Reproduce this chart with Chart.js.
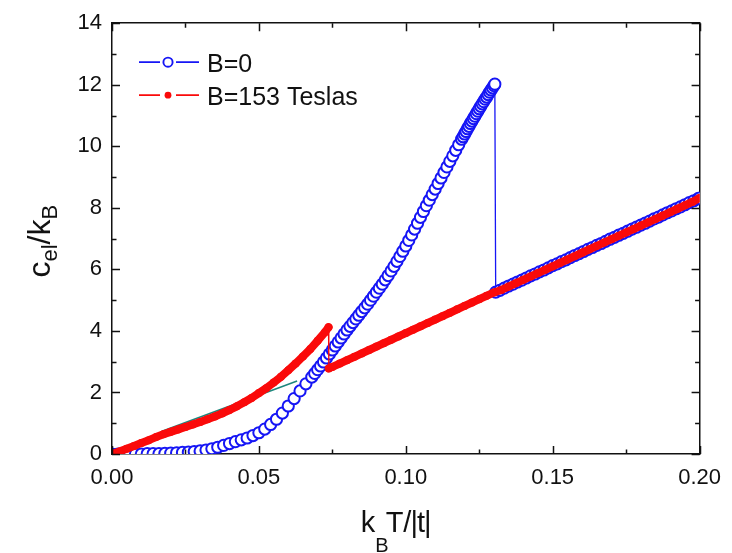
<!DOCTYPE html>
<html>
<head>
<meta charset="utf-8">
<script src="https://cdn.jsdelivr.net/npm/chart.js@4.4.1/dist/chart.umd.min.js"></script>
<style>
  html, body { margin: 0; padding: 0; background: #ffffff; }
  canvas { display: block; }
</style>
</head>
<body>
<canvas id="chart" width="732" height="553"></canvas>
<script>
// ---- axis ticks ----
const xMajor = [0, 0.05, 0.10, 0.15, 0.20];
const xMinor = [0.025, 0.075, 0.125, 0.175];
const yMajor = [0, 2, 4, 6, 8, 10, 12, 14];
const yMinor = [1, 3, 5, 7, 9, 11, 13];

const seriesNames = ['B=0', 'B=153 Teslas'];

// ---- B = 0 : electronic specific heat vs k_B T/|t| ----
const tZero = [
  0, 0.002, 0.004, 0.006, 0.008, 0.01, 0.012, 0.014, 0.016, 0.018,
  0.02, 0.022, 0.024, 0.026, 0.028, 0.03, 0.032, 0.034, 0.036, 0.038,
  0.04, 0.042, 0.044, 0.046, 0.048, 0.05, 0.052, 0.054, 0.056, 0.058,
  0.06, 0.062, 0.064, 0.066, 0.068, 0.069, 0.07, 0.071, 0.072, 0.073,
  0.074, 0.075, 0.076, 0.077, 0.078, 0.079, 0.08, 0.081, 0.082, 0.083,
  0.084, 0.085, 0.086, 0.087, 0.088, 0.089, 0.09, 0.091, 0.092, 0.093,
  0.094, 0.095, 0.096, 0.097, 0.098, 0.099, 0.1, 0.101, 0.102, 0.103,
  0.104, 0.105, 0.106, 0.107, 0.108, 0.109, 0.11, 0.111, 0.112, 0.113,
  0.114, 0.115, 0.116, 0.117, 0.118, 0.119, 0.1195, 0.12, 0.1205, 0.121,
  0.1215, 0.122, 0.1225, 0.123, 0.1235, 0.124, 0.1245, 0.125, 0.1255, 0.126,
  0.1265, 0.127, 0.1275, 0.128, 0.1285, 0.129, 0.1295, 0.13, 0.1303,
  0.1306, 0.132, 0.1335, 0.135, 0.1365, 0.138, 0.1395, 0.141, 0.1425, 0.144,
  0.1455, 0.147, 0.1485, 0.15, 0.1515, 0.153, 0.1545, 0.156, 0.1575, 0.159,
  0.1605, 0.162, 0.1635, 0.165, 0.1665, 0.168, 0.1695, 0.171, 0.1725, 0.174,
  0.1755, 0.177, 0.1785, 0.18, 0.1815, 0.183, 0.1845, 0.186, 0.1875, 0.189,
  0.1905, 0.192, 0.1935, 0.195, 0.1965, 0.198, 0.1995, 0.2
];
const cZero = [
  0.0, 0.0, 0.0, 0.0, 0.0, 0.0, 0.01, 0.01, 0.01, 0.02,
  0.03, 0.04, 0.05, 0.06, 0.08, 0.1, 0.13, 0.17, 0.22, 0.28,
  0.34, 0.4, 0.46, 0.52, 0.6, 0.69, 0.81, 0.96, 1.13, 1.33,
  1.56, 1.8, 2.05, 2.28, 2.5, 2.62, 2.74, 2.86, 2.99, 3.12,
  3.25, 3.38, 3.51, 3.64, 3.77, 3.9, 4.03, 4.15, 4.27, 4.39,
  4.51, 4.63, 4.75, 4.87, 5.0, 5.13, 5.26, 5.39, 5.52, 5.66,
  5.8, 5.95, 6.1, 6.26, 6.42, 6.59, 6.76, 6.94, 7.12, 7.31,
  7.5, 7.69, 7.88, 8.07, 8.25, 8.43, 8.61, 8.79, 8.97, 9.15,
  9.33, 9.51, 9.69, 9.87, 10.05, 10.23, 10.31, 10.4, 10.48, 10.57,
  10.65, 10.74, 10.82, 10.9, 10.98, 11.06, 11.14, 11.22, 11.3, 11.38,
  11.45, 11.53, 11.6, 11.68, 11.76, 11.83, 11.9, 11.97, 12.02,
  5.26, 5.32, 5.39, 5.46, 5.52, 5.59, 5.65, 5.72, 5.79, 5.85,
  5.92, 5.98, 6.05, 6.12, 6.18, 6.25, 6.31, 6.38, 6.45, 6.51,
  6.58, 6.65, 6.71, 6.78, 6.84, 6.91, 6.98, 7.04, 7.11, 7.17,
  7.24, 7.31, 7.37, 7.44, 7.5, 7.57, 7.64, 7.7, 7.77, 7.84,
  7.9, 7.97, 8.03, 8.1, 8.17, 8.23, 8.3, 8.32
];

// ---- B = 153 T : branch below the jump ----
const tFieldLow = [
  0, 0.0025, 0.005, 0.0075, 0.01, 0.0125, 0.015, 0.0175, 0.02, 0.0225,
  0.025, 0.0275, 0.03, 0.0325, 0.035, 0.0375, 0.04, 0.0425, 0.045, 0.0475,
  0.05, 0.0525, 0.055, 0.0575, 0.06, 0.0625, 0.065, 0.0675, 0.07, 0.0725,
  0.0737
];
const cFieldLow = [
  0.0, 0.08, 0.17, 0.26, 0.36, 0.45, 0.55, 0.64, 0.72, 0.8,
  0.88, 0.96, 1.04, 1.13, 1.22, 1.32, 1.43, 1.55, 1.68, 1.82,
  1.98, 2.14, 2.32, 2.51, 2.72, 2.94, 3.17, 3.41, 3.68, 3.96,
  4.12
];
// ---- B = 153 T : branch above the jump ----
const tFieldHigh = [
  0.0738, 0.075, 0.0775, 0.08, 0.0825, 0.085, 0.0875, 0.09, 0.0925,
  0.095, 0.0975, 0.1, 0.1025, 0.105, 0.1075, 0.11, 0.1125, 0.115, 0.1175,
  0.12, 0.1225, 0.125, 0.1275, 0.13, 0.1325, 0.135, 0.1375, 0.14, 0.1425,
  0.145, 0.1475, 0.15, 0.1525, 0.155, 0.1575, 0.16, 0.1625, 0.165, 0.1675,
  0.17, 0.1725, 0.175, 0.1775, 0.18, 0.1825, 0.185, 0.1875, 0.19, 0.1925,
  0.195, 0.1975, 0.2
];
const cFieldHigh = [
  2.78, 2.83, 2.94, 3.05, 3.16, 3.27, 3.38, 3.49, 3.6,
  3.71, 3.82, 3.93, 4.04, 4.15, 4.26, 4.37, 4.48, 4.59, 4.7,
  4.81, 4.92, 5.03, 5.14, 5.25, 5.33, 5.44, 5.55, 5.66, 5.77,
  5.88, 5.99, 6.1, 6.21, 6.32, 6.43, 6.54, 6.65, 6.76, 6.87,
  6.98, 7.09, 7.2, 7.31, 7.42, 7.53, 7.64, 7.75, 7.86, 7.97,
  8.08, 8.19, 8.32
];

// ---- thin guide line between the two curves ----
const tGuide = [0.017, 0.063];
const cGuide = [0.74, 2.37];

const BLUE = 'rgb(22,22,245)';
const RED = 'rgb(250,10,10)';
const TEAL = 'rgb(30,135,125)';
const FONT = '"Liberation Sans", Arial, Helvetica, sans-serif';

const pts = (xs, ys) => xs.map((x, i) => ({ x, y: ys[i] }));

// draws inward major/minor tick marks on all four sides of the frame
const frameTicks = {
  id: 'frameTicks',
  afterDraw(chart) {
    const { ctx, chartArea: a, scales } = chart;
    const xs = scales.x, ys = scales.y;
    ctx.save();
    ctx.strokeStyle = '#111';
    ctx.lineWidth = 1.5;
    const MAJ = 8, MIN = 4.5;
    const vx = (v, len) => {
      const px = Math.round(xs.getPixelForValue(v)) + 0.5;
      ctx.beginPath();
      ctx.moveTo(px, a.bottom); ctx.lineTo(px, a.bottom - len);
      ctx.moveTo(px, a.top); ctx.lineTo(px, a.top + len);
      ctx.stroke();
    };
    const vy = (v, len) => {
      const py = Math.round(ys.getPixelForValue(v)) + 0.5;
      ctx.beginPath();
      ctx.moveTo(a.left, py); ctx.lineTo(a.left + len, py);
      ctx.moveTo(a.right, py); ctx.lineTo(a.right - len, py);
      ctx.stroke();
    };
    xMajor.forEach(v => vx(v, MAJ));
    xMinor.forEach(v => vx(v, MIN));
    yMajor.forEach(v => vy(v, MAJ));
    yMinor.forEach(v => vy(v, MIN));
    ctx.restore();
  }
};

// legend key: line - marker - line, then the series name
const keyBox = {
  id: 'keyBox',
  afterDraw(chart) {
    const { ctx, chartArea: a } = chart;
    const ds = chart.data.datasets.filter(d => seriesNames.includes(d.label));
    ds.sort((p, q) => seriesNames.indexOf(p.label) - seriesNames.indexOf(q.label));
    ctx.save();
    ds.forEach((d, i) => {
      const y = a.top + 39 + i * 33;
      const x0 = a.left + 27;
      const xm = x0 + 29;
      ctx.strokeStyle = d.keyColor;
      ctx.lineWidth = 1.8;
      ctx.beginPath();
      ctx.moveTo(x0, y); ctx.lineTo(xm - 8, y);
      ctx.moveTo(xm + 8, y); ctx.lineTo(x0 + 60, y);
      ctx.stroke();
      ctx.beginPath();
      if (d.keyMarker === 'open') {
        ctx.arc(xm, y, 4.6, 0, Math.PI * 2);
        ctx.fillStyle = '#fff';
        ctx.fill();
        ctx.lineWidth = 1.9;
        ctx.strokeStyle = d.keyColor;
        ctx.stroke();
      } else {
        ctx.arc(xm, y, 3.4, 0, Math.PI * 2);
        ctx.fillStyle = d.keyColor;
        ctx.fill();
      }
      ctx.fillStyle = '#111';
      ctx.font = '25px ' + FONT;
      ctx.textBaseline = 'alphabetic';
      ctx.textAlign = 'left';
      ctx.fillText(d.label, x0 + 68, y + 9.5);
    });
    ctx.restore();
  }
};

// axis titles with subscripts
const axisTitles = {
  id: 'axisTitles',
  afterDraw(chart) {
    const { ctx, chartArea: a } = chart;
    ctx.save();
    ctx.fillStyle = '#111';
    ctx.textAlign = 'left';
    ctx.textBaseline = 'alphabetic';
    const big = '29px ' + FONT, small = '20px ' + FONT;

    // x title: k_B T/|t|
    let x = (a.left + a.right) / 2 - 45;
    const base = 532;
    ctx.font = big; ctx.fillText('k', x, base); x += ctx.measureText('k').width;
    ctx.font = small; ctx.fillText('B', x, base + 20); x += ctx.measureText('B').width - 3;
    ctx.font = big; ctx.fillText('T/', x, base); x += ctx.measureText('T/').width - 1;
    ctx.letterSpacing = '-1px';
    ctx.fillText('|t|', x, base);
    ctx.letterSpacing = '0px';

    // y title: c_el/k_B, rotated
    ctx.translate(50, (a.top + a.bottom) / 2);
    ctx.rotate(-Math.PI / 2);
    const b2 = '32px ' + FONT, s2 = '22px ' + FONT;
    let u = -39;
    ctx.font = b2; ctx.fillText('c', u, 0); u += ctx.measureText('c').width;
    ctx.font = s2; ctx.fillText('el', u, 7); u += ctx.measureText('el').width;
    ctx.font = b2; ctx.fillText('/k', u, 0); u += ctx.measureText('/k').width;
    ctx.font = s2; ctx.fillText('B', u, 7);
    ctx.restore();
  }
};

const redBand = {
  borderColor: RED,
  borderWidth: 8,
  borderCapStyle: 'round',
  borderJoinStyle: 'round',
  pointRadius: 4,
  pointBorderWidth: 0,
  pointBackgroundColor: RED,
  tension: 0
};

new Chart(document.getElementById('chart'), {
  type: 'line',
  data: {
    datasets: [
      Object.assign({
        label: seriesNames[1],
        data: pts(tFieldLow, cFieldLow),
        order: 0,
        keyMarker: 'dot',
        keyColor: RED
      }, redBand),
      {
        label: 'B=153 Teslas jump',
        data: [
          { x: tFieldLow[tFieldLow.length - 1], y: cFieldLow[cFieldLow.length - 1] },
          { x: tFieldHigh[0], y: cFieldHigh[0] }
        ],
        order: 1,
        borderColor: RED,
        borderWidth: 1.3,
        pointRadius: 0,
        tension: 0
      },
      Object.assign({
        label: 'B=153 Teslas upper',
        data: pts(tFieldHigh, cFieldHigh),
        order: 0
      }, redBand),
      {
        label: 'guide',
        data: pts(tGuide, cGuide),
        order: 2,
        borderColor: TEAL,
        borderWidth: 1.6,
        pointRadius: 0,
        tension: 0
      },
      {
        label: seriesNames[0],
        data: pts(tZero, cZero),
        order: 3,
        borderColor: BLUE,
        borderWidth: 1.3,
        pointRadius: 5.6,
        pointBorderWidth: 2,
        pointBackgroundColor: '#ffffff',
        pointBorderColor: BLUE,
        keyMarker: 'open',
        keyColor: BLUE,
        tension: 0
      }
    ]
  },
  options: {
    responsive: false,
    animation: false,
    devicePixelRatio: 1,
    events: [],
    layout: { padding: 0 },
    plugins: { legend: { display: false }, tooltip: { enabled: false } },
    scales: {
      x: {
        type: 'linear', position: 'bottom', min: 0, max: 0.2,
        afterBuildTicks: s => { s.ticks = xMajor.map(v => ({ value: v })); },
        afterFit: s => { s.height = 99; },
        grid: { display: false, drawTicks: false },
        border: { display: true, color: '#111', width: 1.5 },
        ticks: {
          autoSkip: false, maxRotation: 0, padding: 11, color: '#111',
          font: { family: FONT, size: 22 },
          callback: v => Number(v).toFixed(2)
        }
      },
      x2: {
        type: 'linear', position: 'top', min: 0, max: 0.2,
        afterFit: s => { s.height = 16; },
        grid: { display: false, drawTicks: false },
        border: { display: true, color: '#111', width: 1.5 },
        ticks: { display: false }
      },
      y: {
        type: 'linear', position: 'left', min: 0, max: 14,
        afterBuildTicks: s => { s.ticks = yMajor.map(v => ({ value: v })); },
        afterFit: s => { s.width = 112; },
        grid: { display: false, drawTicks: false },
        border: { display: true, color: '#111', width: 1.5 },
        ticks: {
          padding: 10, color: '#111',
          font: { family: FONT, size: 22 },
          callback: v => String(v)
        }
      },
      y2: {
        type: 'linear', position: 'right', min: 0, max: 14,
        afterFit: s => { s.width = 24; },
        grid: { display: false, drawTicks: false },
        border: { display: true, color: '#111', width: 1.5 },
        ticks: { display: false }
      }
    }
  },
  plugins: [frameTicks, keyBox, axisTitles]
});
</script>
</body>
</html>
